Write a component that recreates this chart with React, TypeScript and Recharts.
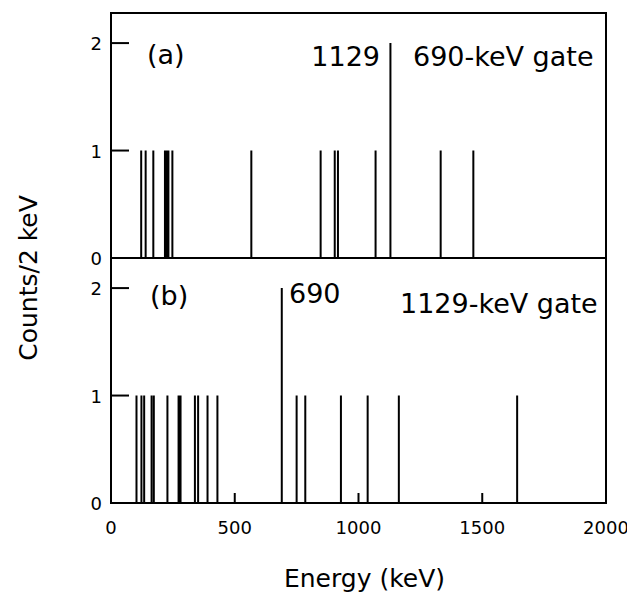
import React from 'react';
import { ComposedChart, Line, XAxis, YAxis, ReferenceArea, Customized, Label } from 'recharts';

// ---- data ----
const energyTicks = [0, 500, 1000, 1500, 2000];
const countTicks = [0, 1, 2];

// (a) 690-keV gate
const gateAEnergies = [122, 140, 171, 218, 225, 232, 248, 567, 847, 904, 917, 1069, 1129, 1332, 1464];
const gateACounts = [1, 1, 1, 1, 1, 1, 1, 1, 1, 1, 1, 1, 2, 1, 1];

// (b) 1129-keV gate
const gateBEnergies = [103, 123, 134, 164, 173, 228, 273, 281, 339, 352, 390, 430, 690, 750, 785, 929, 1037, 1163, 1641];
const gateBCounts = [1, 1, 1, 1, 1, 1, 1, 1, 1, 1, 1, 1, 2, 1, 1, 1, 1, 1, 1];

const Y_MAX = 2.28;
const FONT = '"DejaVu Sans", Verdana, sans-serif';

// build a stick spectrum path: baseline -> peak -> baseline for each energy
function buildSpectrum(energies: number[], counts: number[]) {
  const rows: { x: number; y: number }[] = [{ x: 0, y: 0 }];
  energies.forEach((e, i) => {
    rows.push({ x: e, y: 0 });
    rows.push({ x: e, y: counts[i] });
    rows.push({ x: e, y: 0 });
  });
  rows.push({ x: 2000, y: 0 });
  return rows;
}

const dataA = buildSpectrum(gateAEnergies, gateACounts);
const dataB = buildSpectrum(gateBEnergies, gateBCounts);

const PLOT_LEFT = 103;

const YTick = (props: any) => {
  const { y, payload } = props;
  return (
    <g>
      {payload.value !== 0 && (
        <line x1={PLOT_LEFT} x2={PLOT_LEFT + 18} y1={y} y2={y} stroke="#000" strokeWidth={2} />
      )}
      <text x={PLOT_LEFT - 9} y={y} dy="0.4em" textAnchor="end" fontSize={18} fontFamily={FONT} fill="#000">
        {payload.value}
      </text>
    </g>
  );
};

const XTick = (props: any) => {
  const { x, payload, axisY, showLabel } = props;
  const v = payload.value;
  return (
    <g>
      {v !== 0 && v !== 2000 && (
        <line x1={x} x2={x} y1={axisY} y2={axisY - 10} stroke="#000" strokeWidth={2} />
      )}
      {showLabel && (
        <text x={x} y={axisY + 31} textAnchor="middle" fontSize={18} fontFamily={FONT} fill="#000">
          {v}
        </text>
      )}
    </g>
  );
};

const AnnotA = () => (
  <g fontFamily={FONT} fill="#000" fontSize={27}>
    <text x={139} y={56}>(a)</text>
    <text x={372} y={58} textAnchor="end">1129</text>
    <text x={405} y={58}>690-keV gate</text>
    <text
      x={20}
      y={270}
      transform="rotate(-90, 20, 270)"
      textAnchor="middle"
      dominantBaseline="central"
      fontSize={25}
    >
      Counts/2 keV
    </text>
  </g>
);

const AnnotB = () => (
  <g fontFamily={FONT} fill="#000" fontSize={27}>
    <text x={142} y={47}>(b)</text>
    <text x={281} y={45}>690</text>
    <text x={392} y={55}>1129-keV gate</text>
  </g>
);

export default function App() {
  return (
    <div style={{ position: 'relative', width: 620, fontFamily: FONT }}>
      <style>{`.recharts-surface{overflow:visible}`}</style>
      <ComposedChart width={620} height={250} data={dataA} margin={{ top: 5, right: 22, bottom: 0, left: 0 }}>
        <XAxis
          type="number"
          dataKey="x"
          domain={[0, 2000]}
          ticks={energyTicks}
          interval={0}
          height={0}
          axisLine={false}
          tickLine={false}
          allowDataOverflow
          tick={<XTick axisY={250} showLabel={false} />}
        />
        <YAxis
          type="number"
          domain={[0, Y_MAX]}
          ticks={countTicks}
          interval={0}
          width={PLOT_LEFT}
          axisLine={false}
          tickLine={false}
          allowDataOverflow
          tick={<YTick />}
        />
        <ReferenceArea x1={0} x2={2000} y1={0} y2={Y_MAX} fill="none" fillOpacity={0} stroke="#000" strokeWidth={2} />
        <Line dataKey="y" type="linear" stroke="#000" strokeWidth={2} dot={false} activeDot={false} isAnimationActive={false} />
        <Customized component={<AnnotA />} />
      </ComposedChart>
      <ComposedChart width={620} height={345} data={dataB} margin={{ top: 0, right: 22, bottom: 0, left: 0 }}>
        <XAxis
          type="number"
          dataKey="x"
          domain={[0, 2000]}
          ticks={energyTicks}
          interval={0}
          height={100}
          axisLine={false}
          tickLine={false}
          allowDataOverflow
          tick={<XTick axisY={245} showLabel={true} />}
        >
          <Label
            value="Energy (keV)"
            position="insideBottom"
            offset={16}
            dx={6}
            style={{ fontSize: 25, fontFamily: FONT, fill: '#000' }}
          />
        </XAxis>
        <YAxis
          type="number"
          domain={[0, Y_MAX]}
          ticks={countTicks}
          interval={0}
          width={PLOT_LEFT}
          axisLine={false}
          tickLine={false}
          allowDataOverflow
          tick={<YTick />}
        />
        <ReferenceArea x1={0} x2={2000} y1={0} y2={Y_MAX} fill="none" fillOpacity={0} stroke="#000" strokeWidth={2} />
        <Line dataKey="y" type="linear" stroke="#000" strokeWidth={2} dot={false} activeDot={false} isAnimationActive={false} />
        <Customized component={<AnnotB />} />
      </ComposedChart>
    </div>
  );
}
